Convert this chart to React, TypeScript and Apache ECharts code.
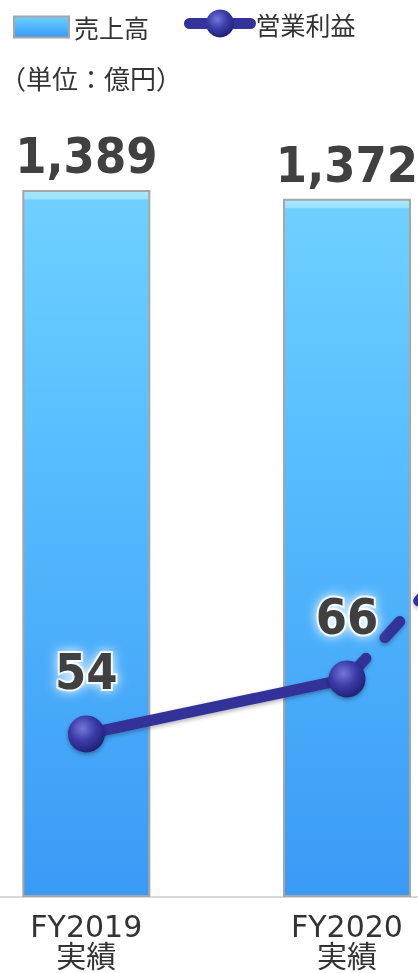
import React, { useEffect, useRef } from "react";
import * as echarts from "echarts";

const categories = ["FY2019\n実績", "FY2020\n実績", ""];
const salesValues: (number | null)[] = [1389, 1372, null];
const profitSolid: (number | null)[] = [54, 66, null];
const profitDashed: (number | null)[] = [null, 66, 128];
const unitText = "（単位：億円）";
const salesName = "売上高";
const profitName = "営業利益";

const NUM_FONT = "'DejaVu Sans Condensed', 'DejaVu Sans', sans-serif";
const CJK_FONT = "'DejaVu Sans', 'Noto Sans CJK JP', sans-serif";

// chart canvas is wider than the page and shifted left; the page clips it
const SHIFT = 44;

export default function App() {
  const ref = useRef<HTMLDivElement>(null);
  useEffect(() => {
    if (!ref.current) return;
    const chart = echarts.init(ref.current, undefined, { renderer: "svg" });
    const barGradient = new echarts.graphic.LinearGradient(0, 0, 0, 1, [
      { offset: 0, color: "#a8e8ff" },
      { offset: 0.011, color: "#9ae2ff" },
      { offset: 0.013, color: "#6fd0ff" },
      { offset: 0.3, color: "#5bc1ff" },
      { offset: 1, color: "#3a9af6" },
    ]);
    const ballGradient = new echarts.graphic.RadialGradient(0.4, 0.35, 0.65, [
      { offset: 0, color: "#7575dd" },
      { offset: 0.55, color: "#3a3aa6" },
      { offset: 1, color: "#22227a" },
    ]);
    chart.setOption({
      animation: false,
      title: {
        text: unitText,
        left: SHIFT,
        top: 64,
        padding: 0,
        textStyle: {
          fontSize: 26,
          fontWeight: "normal",
          color: "#333",
          fontFamily: "'Noto Sans CJK JP', sans-serif",
        },
      },
      legend: [
        {
          data: [salesName],
          left: SHIFT + 13,
          top: 14,
          padding: 0,
          itemWidth: 55,
          itemHeight: 21,
          icon: "rect",
          selectedMode: false,
          textStyle: {
            fontSize: 25,
            lineHeight: 26,
            color: "#333",
            fontFamily: "'Noto Sans CJK JP', sans-serif",
          },
        },
        {
          data: [profitName],
          left: SHIFT + 184,
          top: 9.5,
          padding: 0,
          itemWidth: 61,
          itemHeight: 35,
          selectedMode: false,
          lineStyle: { width: 11, cap: "round", color: "#333399" },
          textStyle: {
            fontSize: 25,
            lineHeight: 26,
            color: "#333",
            fontFamily: "'Noto Sans CJK JP', sans-serif",
          },
        },
      ],
      grid: { left: 0, right: 0, top: 133.5, bottom: 76 },
      xAxis: {
        type: "category",
        data: categories,
        axisLine: { show: true, lineStyle: { color: "#d9d9d9", width: 2 } },
        axisTick: { show: false },
        axisLabel: {
          margin: 14,
          fontSize: 30,
          lineHeight: 30,
          color: "#333",
          fontFamily: CJK_FONT,
        },
      },
      yAxis: [
        { type: "value", min: 0, max: 1500, show: false },
        { type: "value", min: 18.44, max: 185, show: false },
      ],
      series: [
        {
          name: salesName,
          type: "bar",
          data: salesValues,
          barWidth: 128,
          z: 1,
          itemStyle: {
            color: barGradient,
            borderColor: "#a6a6a6",
            borderWidth: 2,
          },
          label: {
            show: true,
            position: "top",
            distance: 9,
            fontSize: 50,
            fontWeight: "bold",
            color: "#404040",
            fontFamily: NUM_FONT,
            formatter: (p: any) => Number(p.value).toLocaleString("en-US"),
          },
        },
        {
          name: profitName,
          type: "line",
          yAxisIndex: 1,
          data: profitSolid,
          z: 4,
          symbol: "circle",
          symbolSize: 37,
          lineStyle: {
            color: "#333399",
            width: 11,
            cap: "round",
            shadowColor: "rgba(0,0,0,0.3)",
            shadowBlur: 4,
            shadowOffsetY: 2,
          },
          itemStyle: {
            color: ballGradient,
            shadowColor: "rgba(0,0,0,0.35)",
            shadowBlur: 4,
            shadowOffsetY: 2,
          },
          label: {
            show: true,
            position: "top",
            distance: 18,
            fontSize: 50,
            fontWeight: "bold",
            color: "#404040",
            fontFamily: NUM_FONT,
            textBorderColor: "rgba(255,255,255,0.85)",
            textBorderWidth: 4,
            textShadowColor: "#ffffff",
            textShadowBlur: 12,
          },
        },
        {
          name: profitName,
          type: "line",
          yAxisIndex: 1,
          data: profitDashed,
          z: 3,
          symbol: "none",
          lineStyle: {
            color: "#333399",
            width: 11,
            cap: "round",
            type: [22, 28],
            dashOffset: -6,
            shadowColor: "rgba(0,0,0,0.3)",
            shadowBlur: 4,
            shadowOffsetY: 2,
          },
        },
      ],
    });
    return () => chart.dispose();
  }, []);
  return (
    <div
      style={{
        position: "fixed",
        left: 0,
        top: 0,
        width: 418,
        height: 973,
        overflow: "hidden",
      }}
    >
      <div
        ref={ref}
        style={{
          position: "absolute",
          left: -SHIFT,
          top: 0,
          width: 782,
          height: 973,
        }}
      />
    </div>
  );
}
